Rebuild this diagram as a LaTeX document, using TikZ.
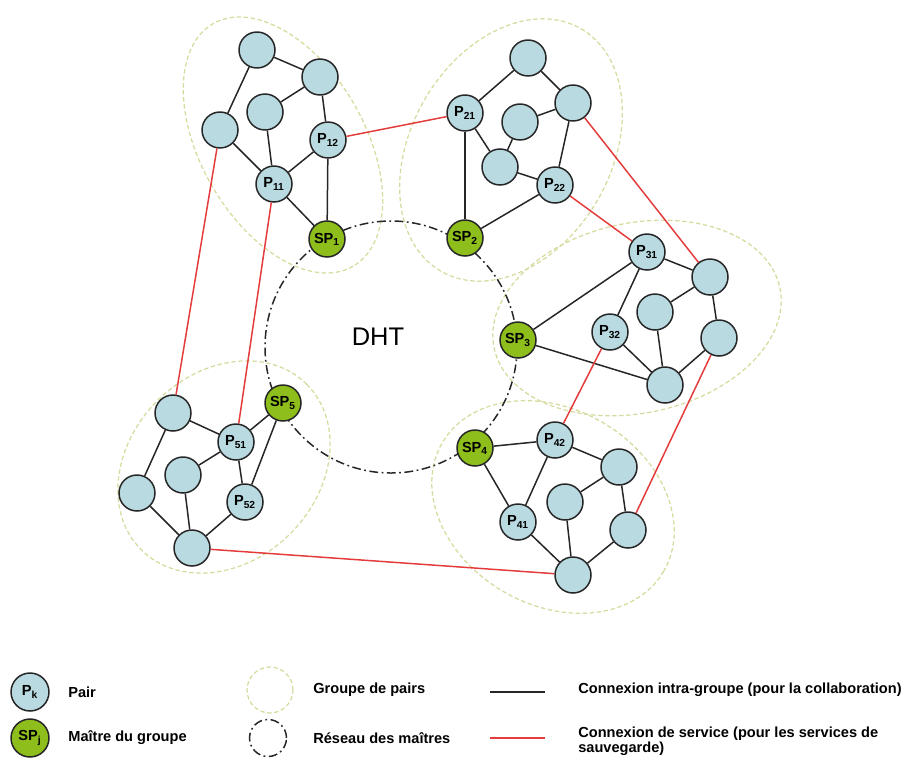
\documentclass[tikz,border=0pt]{standalone}
\usepackage{fontspec}
\setmainfont{Liberation Sans}
\RequirePackage{xcolor}

\definecolor{pairblue}{RGB}{184,218,224}
\definecolor{spgreen}{RGB}{141,190,28}
\definecolor{grpcol}{RGB}{214,218,156}
\definecolor{svcred}{RGB}{228,60,60}

\begin{document}
\begin{tikzpicture}[x=0.02cm, y=-0.02cm,
	pair/.style={circle, draw=black!85, line width=0.85pt, fill=pairblue, minimum size=0.72cm, inner sep=0pt, font=\fontsize{8.3}{9}\selectfont\bfseries},
	master/.style={pair, fill=spgreen},
	groupe/.style={draw=grpcol, line width=0.7pt, dash pattern=on 2.5pt off 1.5pt},
	reseau/.style={draw=black!85, line width=0.85pt, dash pattern=on 5pt off 2pt on 1pt off 2pt},
	intra/.style={black!85, line width=0.85pt},
	service/.style={svcred, line width=0.85pt},
	legende/.style={anchor=west, inner sep=0pt, font=\fontsize{8.3}{8.6}\selectfont\bfseries}]
	  \useasboundingbox (0,0) rectangle (908,764);

	  \draw[groupe] (283,145) ellipse [x radius=140, y radius=82, rotate=-60];
	  \draw[groupe] (511,150) ellipse [x radius=140, y radius=100, rotate=60];
	  \draw[groupe] (637,318) ellipse [x radius=146, y radius=95, rotate=12];
	  \draw[groupe] (553,507) ellipse [x radius=128, y radius=98, rotate=-30];
	  \draw[groupe] (224,467) ellipse [x radius=117, y radius=94, rotate=45];

	  \draw[reseau] (391,347) circle [radius=126];
	  \node[font=\fontsize{14.5}{16}\selectfont] (dht) at (378,337) {DHT};

	  \foreach \n/\x/\y in {g1a/257/50, g1b/320/77, g1c/265/112, g1d/220/130,
	      g2a/528/58, g2b/573/103, g2c/520/122, g2d/500/167,
	      g3a/710/277, g3b/655/312, g3c/719/338, g3d/665/385,
	      g4a/619/467, g4b/565/502, g4c/628/530, g4d/573/575,
	      g5a/173/413, g5b/183/475, g5c/137/493, g5d/192/548}
	    \node[pair] (\n) at (\x,\y) {};

	  \node[pair] (p11) at (274,184) {P\textsubscript{11}};
	  \node[pair] (p12) at (328,140) {P\textsubscript{12}};
	  \node[pair] (p21) at (465,113) {P\textsubscript{21}};
	  \node[pair] (p22) at (555,185) {P\textsubscript{22}};
	  \node[pair] (p31) at (647,252) {P\textsubscript{31}};
	  \node[pair] (p32) at (610,332) {P\textsubscript{32}};
	  \node[pair] (p41) at (518,522) {P\textsubscript{41}};
	  \node[pair] (p42) at (555,440) {P\textsubscript{42}};
	  \node[pair] (p51) at (236,442) {P\textsubscript{51}};
	  \node[pair] (p52) at (245,502) {P\textsubscript{52}};

	  \node[master] (sp1) at (327,239) {SP\textsubscript{1}};
	  \node[master] (sp2) at (465,238) {SP\textsubscript{2}};
	  \node[master] (sp3) at (518,340) {SP\textsubscript{3}};
	  \node[master] (sp4) at (475,448) {SP\textsubscript{4}};
	  \node[master] (sp5) at (283,403) {SP\textsubscript{5}};

	  \foreach \a/\b in {g1a/g1d, g1a/g1b, g1b/g1c, g1b/p12, g1c/p11, g1d/p11, p11/p12, p11/sp1, p12/sp1,
	      g2a/p21, g2a/g2b, g2b/g2c, g2b/p22, p21/g2d, g2c/g2d, g2d/p22, p21/sp2, sp2/p22,
	      p31/g3a, g3a/g3b, g3a/g3c, p31/sp3, p31/p32, p32/g3d, g3b/g3d, g3c/g3d, sp3/g3d,
	      sp4/p42, sp4/p41, p42/p41, p42/g4a, g4a/g4b, g4a/g4c, g4b/g4d, p41/g4d, g4c/g4d,
	      g5a/p51, p51/sp5, g5a/g5c, p51/g5b, p51/p52, sp5/p52, g5b/g5d, g5c/g5d, p52/g5d}
	    \draw[intra] (\a) -- (\b);

	  \foreach \a/\b in {g1d/g5a, p11/p51, p12/p21, g2b/g3a, p22/p31, p32/p42, g3c/g4c, g5d/g4d}
	    \draw[service] (\a) -- (\b);

	  \node[pair, minimum size=0.76cm] (lgpair) at (30,692) {P\textsubscript{k}};
	  \node[master, minimum size=0.76cm] (lgsp) at (30,738) {SP\textsubscript{j}};
	  \node[legende] (txpair) at (68,692) {Pair};
	  \node[legende] (txsp) at (68,738) {Maître du groupe};

	  \node[groupe, circle, minimum size=0.92cm] (lggrp) at (270,690) {};
	  \node[reseau, circle, minimum size=0.74cm] (lgdht) at (268,738) {};
	  \node[legende] (txgrp) at (313,690) {Groupe de pairs};
	  \node[legende] (txdht) at (313,738) {Réseau des maîtres};

	  \coordinate (lgia) at (490,692);
	  \coordinate (lgib) at (545,692);
	  \coordinate (lgsa) at (490,738);
	  \coordinate (lgsb) at (545,738);
	  \draw[intra] (lgia) -- (lgib);
	  \draw[service] (lgsa) -- (lgsb);
	  \node[legende] (txintra) at (578,690) {Connexion intra-groupe (pour la collaboration)};
	  \node[legende, align=left] (txsvc) at (578,741) {Connexion de service (pour les services de\\sauvegarde)};
	\end{tikzpicture}
\end{document}
